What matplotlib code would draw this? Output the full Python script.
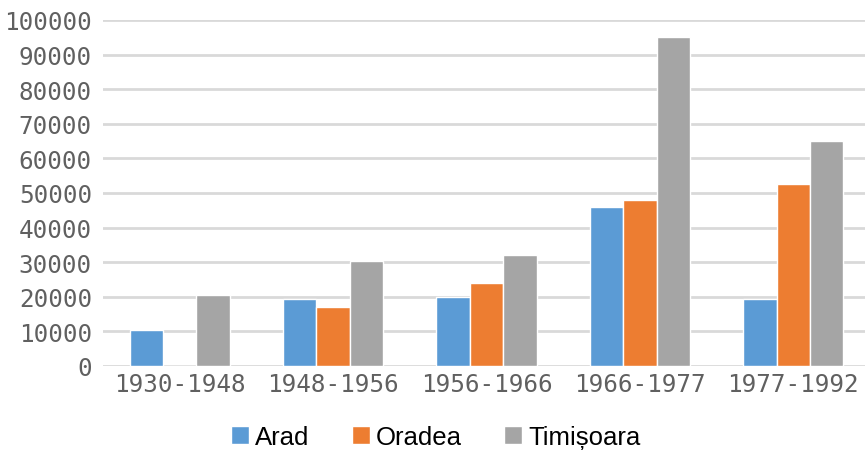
import matplotlib.pyplot as plt
import numpy as np

# Data
periods = ['1930-1948', '1948-1956', '1956-1966', '1966-1977', '1977-1992']
arad = [10400, 19400, 19900, 46000, 19400]
oradea = [0, 17000, 24000, 48000, 52700]
timisoara = [20500, 30400, 32200, 95000, 65100]

series = [('Arad', arad, '#5b9bd5'),
          ('Oradea', oradea, '#ed7d31'),
          ('Timișoara', timisoara, '#a5a5a5')]

fig = plt.figure(figsize=(8.65, 4.52), dpi=100)
ax = fig.add_axes([103 / 865, 1 - 367 / 452, 767 / 865, 346 / 452])

x = np.arange(len(periods))
w = 0.218
for i, (name, vals, col) in enumerate(series):
    ax.bar(x + (i - 1) * w, vals, width=w, color=col, edgecolor='white',
           linewidth=1.0, label=name, zorder=3)

ax.set_xlim(-0.5, len(periods) - 0.5)
ax.set_ylim(0, 100000)
ax.set_yticks(np.arange(0, 100001, 10000))
ax.set_xticks(x)
ax.set_xticklabels(periods)
ax.grid(axis='y', color='#d9d9d9', linewidth=2.0, zorder=0)
ax.set_axisbelow(True)
for s in ax.spines.values():
    s.set_visible(False)
ax.tick_params(axis='both', length=0, labelsize=17.5, labelcolor='#606060')
ax.tick_params(axis='y', pad=8)
ax.tick_params(axis='x', pad=4)
for lab in ax.get_xticklabels() + ax.get_yticklabels():
    lab.set_fontfamily('DejaVu Sans Mono')

ax.legend(loc='center', bbox_to_anchor=(436 / 865, 1 - 438 / 452),
          bbox_transform=fig.transFigure, ncol=3, frameon=False,
          prop={'family': 'Liberation Sans', 'size': 18.5},
          handlelength=0.7, handleheight=0.7, handletextpad=0.23,
          columnspacing=1.65, borderpad=0.2)

fig.savefig('out.png', dpi=100)
